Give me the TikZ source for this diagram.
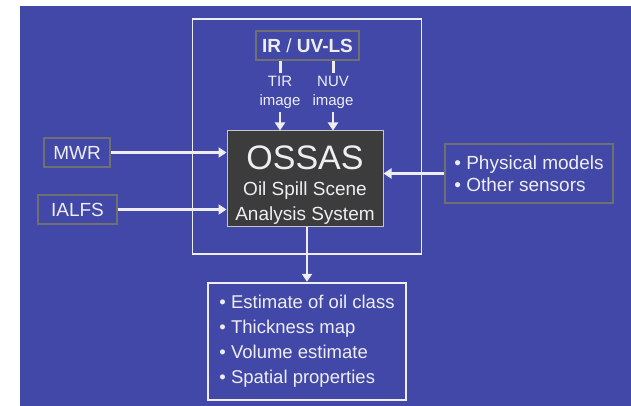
\documentclass[tikz,border=0pt]{standalone}
\usepackage{fontspec}
\setmainfont{Liberation Sans}
\usepackage{xcolor}
\usepackage{tikz}
\usetikzlibrary{arrows.meta, positioning, calc}
\definecolor{slideblue}{RGB}{66,72,168}
\definecolor{boxgray}{RGB}{112,112,112}
\definecolor{coredark}{RGB}{60,60,60}
\definecolor{textwhite}{RGB}{238,238,242}

\begin{document}
\begin{tikzpicture}[
    x=1pt, y=-1pt,
    font=\fontsize{19}{22}\selectfont,
    text=textwhite,
    source/.style={draw=boxgray, line width=2.5pt, minimum height=29pt, inner sep=4pt},
    core/.style={draw=gray!45, line width=1pt, fill=coredark, minimum width=156pt, minimum height=95pt, align=center, text depth=0pt},
    listbox/.style={source, align=left},
    arrow/.style={-{Triangle[length=8pt,width=10pt]}, line width=2.5pt, draw=textwhite},
    stub/.style={line width=3pt, draw=textwhite}
]
% Slide background
\fill[white] (0,0) rectangle (631,406);
\fill[slideblue] (20,6) rectangle (631,406);
\useasboundingbox (0,0) rectangle (631,406);

% Frame round the sensor package
\draw[textwhite, line width=1.5pt] (192.5,19) rectangle (421.5,254);

% Core system
\node[core] (ossas) at (305,178.5) {\rule{0pt}{32pt}{\fontsize{34}{36}\selectfont OSSAS}\\[4pt]Oil Spill Scene\\[3pt]Analysis System};

% Sensors
\node[source, minimum width=103pt] (irbox) at (307.5,45.5) {\textbf{IR} / \textbf{UV-LS}};
\node[font=\fontsize{15}{19}\selectfont, align=center] (tir) at (280,92.5) {TIR\\image};
\node[font=\fontsize{15}{19}\selectfont, align=center] (nuv) at (333,92.5) {NUV\\image};
\node[source, minimum width=66pt] (mwr) at (77,152.5) {MWR};
\node[source, minimum width=79pt] (ialfs) at (77.5,209.5) {IALFS};
\node[listbox, minimum width=168pt, minimum height=59pt] (phys) at (529,173.5) {\textbullet\ Physical models\\\textbullet\ Other sensors};

% Products
\node[listbox, draw=textwhite, minimum width=198pt, minimum height=117pt, font=\fontsize{18.5}{25}\selectfont] (output) at (307,341.5)
    {\textbullet\ Estimate of oil class\\\textbullet\ Thickness map\\\textbullet\ Volume estimate\\\textbullet\ Spatial properties};

% Connections
\draw[stub] (irbox.south -| tir.north) -- (tir.north);
\draw[stub] (irbox.south -| nuv.north) -- (nuv.north);
\draw[arrow] (tir.south) -- (tir.south |- ossas.north);
\draw[arrow] (nuv.south) -- (nuv.south |- ossas.north);
\draw[arrow] (mwr.east) -- (mwr.east -| ossas.west);
\draw[arrow] (ialfs.east) -- (ialfs.east -| ossas.west);
\draw[arrow] (phys.west) -- (phys.west -| ossas.east);
\draw[arrow] (ossas.south -| output.north) -- (output.north);
\end{tikzpicture}
\end{document}
